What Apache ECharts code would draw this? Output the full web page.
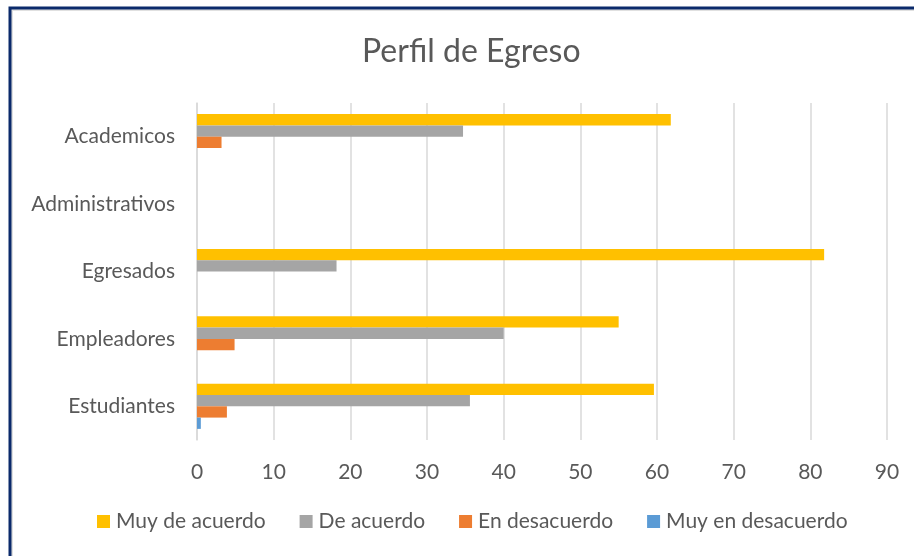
<!DOCTYPE html>
<html>
<head>
<meta charset="utf-8">
<script src="https://cdn.jsdelivr.net/npm/echarts@6/dist/echarts.min.js"></script>
<style>
html,body{margin:0;padding:0;background:#fff;}
#c{width:914px;height:556px;}
</style>
</head>
<body>
<div id="c"></div>
<script>
var categories = ['Academicos', 'Administrativos', 'Egresados', 'Empleadores', 'Estudiantes'];
var seriesNames = ['Muy de acuerdo', 'De acuerdo', 'En desacuerdo', 'Muy en desacuerdo'];
var muyDeAcuerdo = [61.8, null, 81.8, 55.0, 59.6];
var deAcuerdo = [34.7, null, 18.2, 40.0, 35.6];
var enDesacuerdo = [3.2, null, null, 4.9, 3.9];
var muyEnDesacuerdo = [null, null, null, null, 0.5];
var xTicks = [0, 10, 20, 30, 40, 50, 60, 70, 80, 90];
var colors = ['#FFC000', '#A5A5A5', '#ED7D31', '#5B9BD5'];

var FONT = 'Lato';
var chart = echarts.init(document.getElementById('c'), null, {renderer: 'canvas'});
var values = [muyDeAcuerdo, deAcuerdo, enDesacuerdo, muyEnDesacuerdo];
var series = values.map(function (v, i) {
  return {
    name: seriesNames[i],
    type: 'bar',
    data: v,
    barGap: '0%',
    barCategoryGap: '33%',
    itemStyle: {color: colors[i]},
    emphasis: {disabled: true}
  };
});
chart.setOption({
  animation: false,
  color: colors,
  textStyle: {fontFamily: FONT},
  title: {
    text: 'Perfil de Egreso',
    left: 362,
    top: 36,
    padding: 0,
    textStyle: {fontFamily: FONT, fontSize: 32, fontWeight: 'normal', color: '#595959'}
  },
  legend: {
    bottom: 19,
    left: 92,
    itemWidth: 13,
    itemHeight: 13,
    itemGap: 34,
    icon: 'rect',
    textStyle: {fontFamily: FONT, fontSize: 21, color: '#595959', padding: [0, 0, 0, 1]}
  },
  grid: {left: 197, right: 27, top: 103, bottom: 116, containLabel: false},
  xAxis: {
    type: 'value',
    min: xTicks[0],
    max: xTicks[xTicks.length - 1],
    interval: 10,
    axisLine: {show: false},
    axisTick: {show: false},
    axisLabel: {fontFamily: FONT, fontSize: 21, color: '#595959', margin: 22},
    splitLine: {lineStyle: {color: '#D9D9D9', width: 1.5}}
  },
  yAxis: {
    type: 'category',
    data: categories,
    inverse: true,
    axisLine: {show: true, lineStyle: {color: '#D9D9D9', width: 1.5}},
    axisTick: {show: false},
    axisLabel: {fontFamily: FONT, fontSize: 21, color: '#595959', margin: 22}
  },
  series: series,
  graphic: [
    {type: 'rect', shape: {x: 10, y: 8, width: 1000, height: 700},
     style: {fill: 'none', stroke: '#E0E0E0', lineWidth: 2}, position: [2, 2], z: 10},
    {type: 'rect', shape: {x: 10, y: 8, width: 1000, height: 700},
     style: {fill: 'none', stroke: '#0B2A6B', lineWidth: 3}, z: 11}
  ]
});
</script>
</body>
</html>
